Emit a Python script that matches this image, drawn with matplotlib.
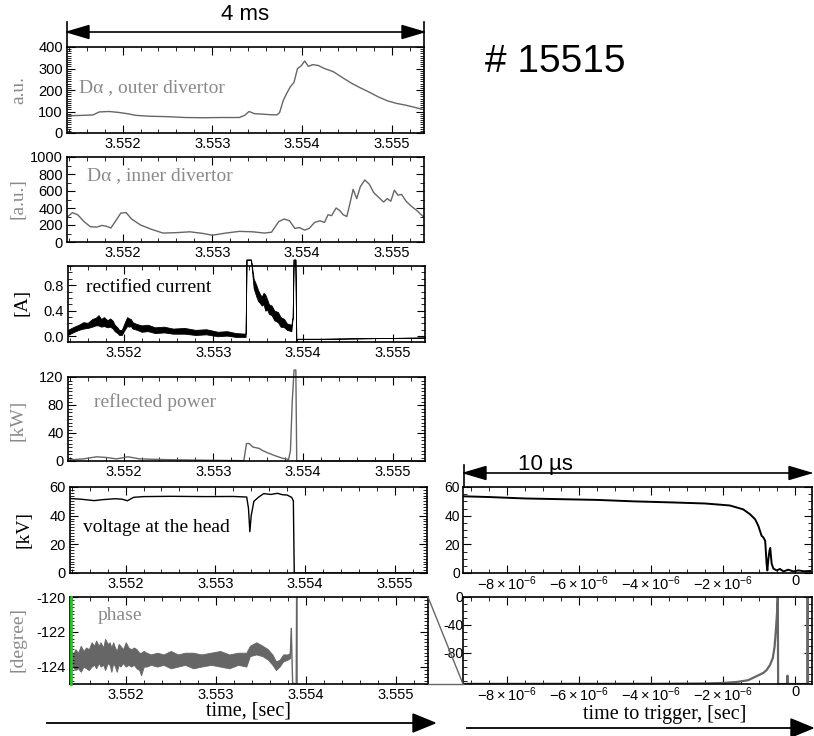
import matplotlib
matplotlib.use('Agg')
import matplotlib.pyplot as plt
from matplotlib.ticker import MultipleLocator
from matplotlib.patches import Polygon
from matplotlib.lines import Line2D

# ---------------- data (left: ms offset from 3.552 s) ----------------
T0 = 3.552
do_t = [-0.61, -0.45, -0.33, -0.26, -0.15, -0.05, 0.05, 0.15, 0.30, 0.50, 0.70, 0.90, 1.10, 1.30, 1.36,
        1.41, 1.47, 1.55, 1.65, 1.72, 1.75, 1.79, 1.83, 1.87, 1.91, 1.95, 1.99, 2.03, 2.07, 2.12, 2.18,
        2.25, 2.35, 2.45, 2.55, 2.65, 2.75, 2.85, 2.95, 3.05, 3.15, 3.25, 3.36]
do_y = [80, 82, 84, 98, 100, 96, 90, 82, 78, 76, 72, 71, 72, 72, 82,
        100, 90, 88, 85, 84, 95, 150, 185, 215, 235, 300, 312, 335, 310, 318, 314,
        300, 285, 258, 232, 210, 190, 168, 150, 138, 130, 120, 108]

di_t = [-0.62, -0.56, -0.50, -0.43, -0.36, -0.29, -0.23, -0.18, -0.13, -0.07, -0.02, 0.04, 0.10, 0.20,
        0.32, 0.45, 0.60, 0.75, 0.90, 1.00, 1.15, 1.30, 1.45, 1.58, 1.66, 1.74, 1.80, 1.86, 1.92, 1.97,
        2.03, 2.08, 2.14, 2.20, 2.25, 2.29, 2.33, 2.38, 2.42, 2.46, 2.50, 2.54, 2.57, 2.61, 2.65, 2.70,
        2.75, 2.80, 2.86, 2.91, 2.95, 2.99, 3.03, 3.07, 3.11, 3.16, 3.22, 3.28, 3.35]
di_y = [290, 345, 320, 240, 180, 175, 195, 185, 165, 260, 340, 345, 270, 200,
        150, 105, 110, 120, 100, 80, 105, 125, 120, 105, 115, 240, 270, 250, 160, 170,
        140, 160, 230, 250, 230, 320, 310, 400, 370, 320, 300, 480, 620, 510, 650, 730,
        680, 580, 520, 470, 510, 480, 610, 550, 560, 480, 420, 370, 300]

cur_t = [-0.62, -0.58, -0.55, -0.50, -0.45, -0.40, -0.35, -0.31, -0.28, -0.25, -0.22, -0.18, -0.15,
         -0.12, -0.10, -0.07, -0.05, -0.02, 0.02, 0.04, 0.06, 0.08, 0.10, 0.15, 0.20, 0.27, 0.35, 0.45,
         0.55, 0.68, 0.80, 0.92, 1.05, 1.15, 1.25, 1.36, 1.37, 1.42, 1.45, 1.48, 1.50, 1.52, 1.54, 1.56,
         1.58, 1.60, 1.62, 1.65, 1.68, 1.72, 1.75, 1.79, 1.82, 1.87, 1.885, 1.895, 1.915, 1.925, 1.935,
         2.20, 3.36]
cur_lo = [0.02, 0.05, 0.07, 0.10, 0.12, 0.13, 0.15, 0.17, 0.17, 0.15, 0.16, 0.14, 0.15,
          0.12, 0.08, 0.05, 0.02, 0.02, 0.12, 0.16, 0.15, 0.16, 0.12, 0.10, 0.07, 0.08, 0.05, 0.06,
          0.04, 0.04, 0.02, 0.03, 0.00, 0.01, -0.01, -0.01, 1.20, 1.20, 0.75, 0.62, 0.55, 0.52, 0.48, 0.50,
          0.40, 0.42, 0.35, 0.33, 0.25, 0.22, 0.15, 0.14, 0.10, 0.08, 0.30, 1.20, 1.20, -0.09, -0.04,
          -0.04, -0.02]
cur_hi = [0.10, 0.13, 0.15, 0.18, 0.22, 0.21, 0.27, 0.29, 0.33, 0.27, 0.30, 0.25, 0.28,
          0.24, 0.18, 0.14, 0.10, 0.10, 0.24, 0.30, 0.28, 0.27, 0.22, 0.19, 0.17, 0.18, 0.14, 0.15,
          0.12, 0.13, 0.10, 0.11, 0.07, 0.08, 0.05, 0.04, 1.20, 1.20, 0.90, 0.80, 0.72, 0.66, 0.62, 0.68,
          0.65, 0.58, 0.50, 0.48, 0.40, 0.38, 0.30, 0.27, 0.20, 0.18, 0.30, 1.20, 1.20, -0.09, -0.04,
          -0.04, -0.02]

pw_t = [-0.62, -0.45, -0.30, -0.19, -0.08, 0.05, 0.18, 0.47, 0.99, 1.34, 1.37, 1.40, 1.44, 1.51, 1.55,
        1.60, 1.70, 1.77, 1.84, 1.86, 1.88, 1.90, 1.92, 1.93, 3.36]
pw_y = [1.4, 3, 6, 5, 3, 6, 3, 2, 1, 0.5, 25, 25, 20, 18, 15,
        12, 7, 4, 2.3, 15, 85, 130, 130, 0, 0]

v_t = [-0.63, -0.50, -0.35, -0.25, -0.12, -0.04, 0.02, 0.09, 0.20, 0.50, 0.90, 1.20, 1.35, 1.37, 1.385,
       1.40, 1.43, 1.48, 1.54, 1.62, 1.69, 1.75, 1.80, 1.85, 1.87, 1.88, 3.36]
v_y = [52, 51.5, 50.5, 51.2, 51.8, 51.5, 50.4, 52.8, 53.3, 53.5, 53.3, 53.4, 53.0, 45, 28.8,
       40, 50, 52.8, 55.4, 54.8, 55.6, 54.6, 54.4, 52.8, 50.4, 0, 0]

ph_t = [-0.62, -0.59, -0.56, -0.53, -0.50, -0.47, -0.44, -0.41, -0.38, -0.35, -0.33, -0.30, -0.28,
        -0.25, -0.23, -0.20, -0.18, -0.16, -0.14, -0.12, -0.10, -0.08, -0.06, -0.03, 0.00, 0.03, 0.06,
        0.09, 0.12, 0.15, 0.17, 0.20, 0.23, 0.28, 0.35, 0.42, 0.50, 0.58, 0.66, 0.75, 0.84, 0.95, 1.05,
        1.15, 1.25, 1.34, 1.38, 1.45, 1.52, 1.58, 1.63, 1.67, 1.71, 1.75, 1.80, 1.83]
ph_lo = [-124.4, -124.0, -124.2, -124.1, -124.3, -124.0, -124.1, -124.2, -124.0, -123.9, -124.1,
         -123.8, -124.0, -123.9, -124.2, -123.8, -123.9, -124.3, -123.8, -124.0, -124.3, -123.9, -124.0,
         -123.8, -124.0, -123.9, -124.0, -123.9, -124.1, -124.2, -124.5, -124.0, -124.0, -123.9, -124.0,
         -123.9, -124.1, -124.0, -123.9, -124.1, -124.0, -123.9, -124.0, -124.1, -123.9, -124.0, -123.4,
         -123.3, -123.4, -123.6, -123.9, -124.2, -124.0, -123.7, -123.6, -123.5]
ph_hi = [-122.9, -123.3, -123.0, -123.2, -122.8, -123.1, -122.9, -123.0, -122.6, -122.8, -122.5,
         -122.8, -122.6, -122.9, -122.4, -122.7, -122.6, -122.9, -122.6, -122.9, -123.1, -122.7, -122.8,
         -123.0, -122.6, -122.9, -123.0, -122.9, -123.0, -123.2, -123.2, -123.1, -123.2, -123.3, -123.2,
         -123.3, -123.1, -123.3, -123.2, -123.2, -123.3, -123.2, -123.1, -123.3, -123.2, -123.2, -122.8,
         -122.6, -122.8, -123.0, -123.3, -123.7, -123.6, -123.3, -123.3, -123.2]
ph_sp_t = [1.83, 1.84, 1.855, 1.895, 1.900, 1.905]
ph_sp_y = [-123.3, -121.8, -124.95, -125.0, -119.0, -125.0]

# right panels: microseconds to trigger
rv_t = [-9.20, -8.5, -7.5, -6.5, -5.5, -4.5, -3.5, -2.5, -1.81, -1.44, -1.25, -1.11, -1.02, -0.93, -0.88,
        -0.83, -0.79, -0.77, -0.74, -0.71, -0.69, -0.65, -0.60, -0.51, -0.42, -0.32, -0.19, -0.05, 0.10,
        0.25, 0.42]
rv_y = [53.5, 53, 52, 51.5, 51, 50, 49.3, 48.5, 47.1, 44.4, 41, 37.5, 32.9, 26, 24.8,
        22.5, 6.4, 1.8, 10, 15.6, 17.5, 6.4, 3, 1.8, 2.8, 1.1, 2.3, 1.1, 1.8, 1.2, 1.4]

rp_t = [-9.2, -4.0, -2.5, -2.0, -1.6, -1.3, -1.16, -1.0, -0.88, -0.79, -0.70, -0.62, -0.57, -0.53,
        -0.50, -0.48, -0.47, -0.22, -0.21, -0.20, 0.34, 0.35, 0.36]
rp_y = [-124.8, -124.7, -124.2, -123.5, -122, -119.5, -116, -112, -109, -105, -98, -88, -72, -46,
        -22, 0, -125, -125, -113, -125, -125, 0, -125]

XTICKS = [3.552, 3.553, 3.554, 3.555]
XTICKLABELS = ['3.552', '3.553', '3.554', '3.555']
RXTICKS = [-8e-6, -6e-6, -4e-6, -2e-6, 0]
RXTICKLABELS = [r'$-8\times10^{-6}$', r'$-6\times10^{-6}$', r'$-4\times10^{-6}$', r'$-2\times10^{-6}$', '0']

# ---------------- figure ----------------
W, H = 814, 736
plt.rcParams['font.family'] = ['Liberation Sans', 'DejaVu Sans']
plt.rcParams['mathtext.fontset'] = 'custom'
plt.rcParams['mathtext.rm'] = 'Liberation Sans'
plt.rcParams['mathtext.it'] = 'Liberation Sans:italic'
plt.rcParams['axes.linewidth'] = 1.2
SERIF = ['Liberation Serif', 'DejaVu Serif']
GRAYTXT = '#8a8a8a'
GRAYLN = '#666666'

fig = plt.figure(figsize=(W / 100, H / 100), dpi=100)


def ax_px(l, t, r, b):
    return fig.add_axes([l / W, 1 - b / H, (r - l) / W, (b - t) / H])


def tt(offs):
    return [T0 + o * 1e-3 for o in offs]


def us(v):
    return [x * 1e-6 for x in v]


def style_left(ax, ylim, yticks, ylabels, yminor):
    ax.set_xlim(3.55138, 3.55536)
    ax.set_ylim(*ylim)
    ax.set_xticks(XTICKS)
    ax.set_xticklabels(XTICKLABELS)
    ax.xaxis.set_minor_locator(MultipleLocator(0.0002))
    ax.set_yticks(yticks)
    ax.set_yticklabels(ylabels)
    ax.yaxis.set_minor_locator(MultipleLocator(yminor))
    ax.tick_params(which='both', direction='in', top=True, right=True, labelsize=10.5, pad=3)
    ax.tick_params(which='major', length=6, width=0.8)
    ax.tick_params(which='minor', length=3, width=0.6)


def ftext(x, y, s, **kw):
    fig.text(x / W, 1 - y / H, s, **kw)


# panel 1: D-alpha outer
a1 = ax_px(67, 47, 424, 133)
a1.plot(tt(do_t), do_y, color=GRAYLN, lw=1.0)
style_left(a1, (0, 400), [0, 100, 200, 300, 400], ['0', '100', '200', '300', '400'], 10)
ftext(79, 88, 'D\u03b1 , outer divertor', family=SERIF, size=14, color=GRAYTXT, va='center')
ftext(19, 90, 'a.u.', family=SERIF, size=14, color=GRAYTXT, rotation=90, va='center', ha='center')

# panel 2: D-alpha inner
a2 = ax_px(67, 157, 424, 242)
a2.plot(tt(di_t), di_y, color=GRAYLN, lw=1.0)
style_left(a2, (0, 1000), [0, 200, 400, 600, 800, 1000], ['0', '200', '400', '600', '800', '1000'], 100)
ftext(87, 176, 'D\u03b1 , inner divertor', family=SERIF, size=14, color=GRAYTXT, va='center')
ftext(18, 199, '[a.u.]', family=SERIF, size=14, color=GRAYTXT, rotation=90, va='center', ha='center')

# panel 3: rectified current
a3 = ax_px(68, 266, 425, 342)
a3.fill_between(tt(cur_t), cur_lo, cur_hi, facecolor='black', edgecolor='black', lw=0.6, clip_on=False)
style_left(a3, (-0.09, 1.1), [0.0, 0.4, 0.8], ['0.0', '0.4', '0.8'], 0.1)
ftext(86, 287, 'rectified current', family=SERIF, size=14, color='black', va='center')
ftext(22, 302, '[A]', family=SERIF, size=14, color='black', rotation=90, va='center', ha='center')

# panel 4: reflected power
a4 = ax_px(68, 377, 425, 461)
a4.plot(tt(pw_t), pw_y, color=GRAYLN, lw=1.0, clip_on=False)
style_left(a4, (0, 120), [0, 40, 80, 120], ['0', '40', '80', '120'], 5)
ftext(94, 402, 'reflected power', family=SERIF, size=14, color=GRAYTXT, va='center')
ftext(18, 420, '[kW]', family=SERIF, size=14, color=GRAYTXT, rotation=90, va='center', ha='center')

# panel 5: voltage at the head
a5 = ax_px(70, 487, 427, 573)
a5.plot(tt(v_t), v_y, color='black', lw=1.0)
style_left(a5, (0, 60), [0, 20, 40, 60], ['0', '20', '40', '60'], 2)
ftext(83, 527, 'voltage at the head', family=SERIF, size=14, color='black', va='center')
ftext(24, 530, '[kV]', family=SERIF, size=14, color='black', rotation=90, va='center', ha='center')

# panel 6: phase
a6 = ax_px(70, 597, 428, 684)
a6.fill_between(tt(ph_t), ph_lo, ph_hi, facecolor=GRAYLN, edgecolor=GRAYLN, lw=0.6)
a6.plot(tt(ph_sp_t), ph_sp_y, color=GRAYLN, lw=1.0)
style_left(a6, (-125, -120), [-124, -122, -120], ['-124', '-122', '-120'], 0.2)
a6.plot([3.55138 + 0.000012, 3.55138 + 0.000012], [-125, -120], color='#22cc22', lw=2.0, zorder=10,
        clip_on=False)
ftext(98, 616, 'phase', family=SERIF, size=14, color=GRAYTXT, va='center')
ftext(18, 640, '[degree]', family=SERIF, size=14, color=GRAYTXT, rotation=90, va='center', ha='center')
ftext(248, 711, 'time, [sec]', family=SERIF, size=14.5, color='black', va='center', ha='center')


def style_right(ax, ylim, yticks, ylabels, yminor, pad):
    ax.set_xlim(-9.22e-6, 0.47e-6)
    ax.set_ylim(*ylim)
    ax.set_xticks(RXTICKS)
    ax.set_xticklabels(RXTICKLABELS)
    ax.xaxis.set_minor_locator(MultipleLocator(0.5e-6))
    ax.set_yticks(yticks)
    ax.set_yticklabels(ylabels)
    ax.yaxis.set_minor_locator(MultipleLocator(yminor))
    ax.tick_params(which='both', direction='in', top=True, right=True, labelsize=10)
    ax.tick_params(axis='x', pad=1, labelsize=10.5)
    ax.tick_params(axis='y', pad=pad)
    ax.tick_params(which='major', length=6, width=0.8)
    ax.tick_params(which='minor', length=3, width=0.6)


r1 = ax_px(463, 487, 812, 573)
r1.plot(us(rv_t), rv_y, color='black', lw=1.4)
style_right(r1, (0, 60), [0, 20, 40, 60], ['0', '20', '40', '60'], 5, 2)

r2 = ax_px(463, 597, 812, 684)
r2.plot(us(rp_t), rp_y, color=GRAYLN, lw=1.6)
style_right(r2, (-125, 0), [-80, -40, 0], ['-80', '-40', '0'], 10, 0)
ftext(665, 715, 'time to trigger, [sec]', family=SERIF, size=14.5, color='black', va='center', ha='center')

# ---------------- annotations in pixel space ----------------


def pline(xs, ys, color='black', lw=1.2):
    fig.add_artist(Line2D([x / W for x in xs], [1 - y / H for y in ys], color=color, lw=lw,
                          transform=fig.transFigure))


def phead(tipx, y, direction, length=22, half=6.5):
    bx = tipx - direction * length
    pts = [(tipx / W, 1 - y / H), (bx / W, 1 - (y - half) / H), (bx / W, 1 - (y + half) / H)]
    fig.add_artist(Polygon(pts, closed=True, color='black', transform=fig.transFigure))


# 4 ms arrow
pline([67, 424], [32, 32])
pline([67, 67], [22, 47])
pline([424, 424], [22, 47])
phead(67, 32, -1)
phead(424, 32, 1)
ftext(245, 15, '4 ms', size=16, ha='center', va='center')

# shot number
ftext(555, 62, '# 15515', size=28, ha='center', va='center')

# 10 us arrow
pline([464, 811], [473, 473])
pline([464, 464], [465, 487])
phead(464, 473, -1)
phead(811, 473, 1)
ftext(545, 465, '10 \u00b5s', size=16, ha='center', va='center')

# bottom arrows
pline([47, 415], [723, 723], lw=1.3)
phead(435, 723, 1, length=22, half=9)
pline([467, 795], [728, 728], lw=1.3)
phead(813, 728, 1, length=22, half=9)

# zoom connector
pline([428, 463], [597, 684], color=GRAYLN, lw=1.0)
pline([428, 463], [684, 684], color=GRAYLN, lw=1.0)

fig.savefig('out.png', dpi=100)
